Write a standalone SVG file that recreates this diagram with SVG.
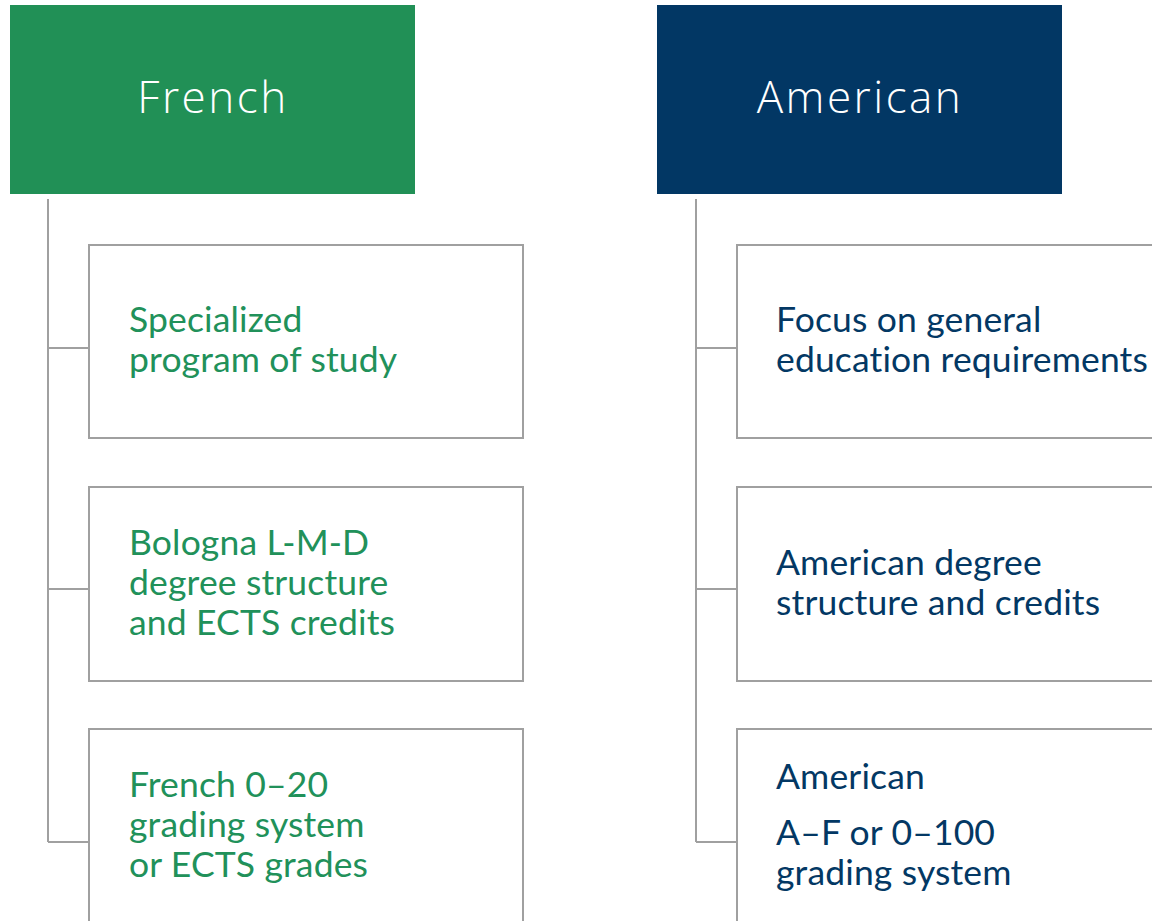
<svg xmlns="http://www.w3.org/2000/svg" width="1152" height="921" viewBox="0 0 1152 921">
<style>
.hdr{font-family:"Open Sans","Lato",sans-serif;font-weight:300;font-size:44px;letter-spacing:2.5px;fill:#ffffff;text-anchor:middle}
.box{fill:#ffffff;stroke:#a0a0a0;stroke-width:2}
.txt{font-family:"Lato","Noto Sans",sans-serif;font-size:35.5px;letter-spacing:0.15px}
.fr{fill:#21915a}
.us{fill:#033864}
.conn{fill:none;stroke:#a0a0a0;stroke-width:2}
</style>
<rect width="1152" height="921" fill="#ffffff"/>
<g id="connectors">
<path class="conn" d="M48 199 V842 M48 348 H92 M48 589 H92 M48 842 H92"/>
<path class="conn" d="M696 199 V842 M696 348 H740 M696 589 H740 M696 842 H740"/>
</g>
<g id="french-header">
<rect x="10" y="5" width="405" height="189" fill="#219056"/>
<text class="hdr" x="213" y="113">French</text>
</g>
<g id="american-header">
<rect x="657" y="5" width="405" height="189" fill="#023764"/>
<text class="hdr" x="860" y="113">American</text>
</g>
<g id="fr-1">
<rect class="box" x="89" y="245" width="434" height="193"/>
<text class="txt fr" x="129" y="332">Specialized</text>
<text class="txt fr" x="129" y="372">program of study</text>
</g>
<g id="fr-2">
<rect class="box" x="89" y="487" width="434" height="194"/>
<text class="txt fr" x="129" y="555">Bologna L-M-D</text>
<text class="txt fr" x="129" y="595">degree structure</text>
<text class="txt fr" x="129" y="635">and ECTS credits</text>
</g>
<g id="fr-3">
<rect class="box" x="89" y="729" width="434" height="200"/>
<text class="txt fr" x="129" y="797">French 0–20</text>
<text class="txt fr" x="129" y="837">grading system</text>
<text class="txt fr" x="129" y="877">or ECTS grades</text>
</g>
<g id="us-1">
<rect class="box" x="737" y="245" width="434" height="193"/>
<text class="txt us" x="776" y="332">Focus on general</text>
<text class="txt us" x="776" y="372">education requirements</text>
</g>
<g id="us-2">
<rect class="box" x="737" y="487" width="434" height="194"/>
<text class="txt us" x="776" y="575">American degree</text>
<text class="txt us" x="776" y="615">structure and credits</text>
</g>
<g id="us-3">
<rect class="box" x="737" y="729" width="434" height="200"/>
<text class="txt us" x="776" y="789">American</text>
<text class="txt us" x="776" y="845">A–F or 0–100</text>
<text class="txt us" x="776" y="885">grading system</text>
</g>
</svg>
